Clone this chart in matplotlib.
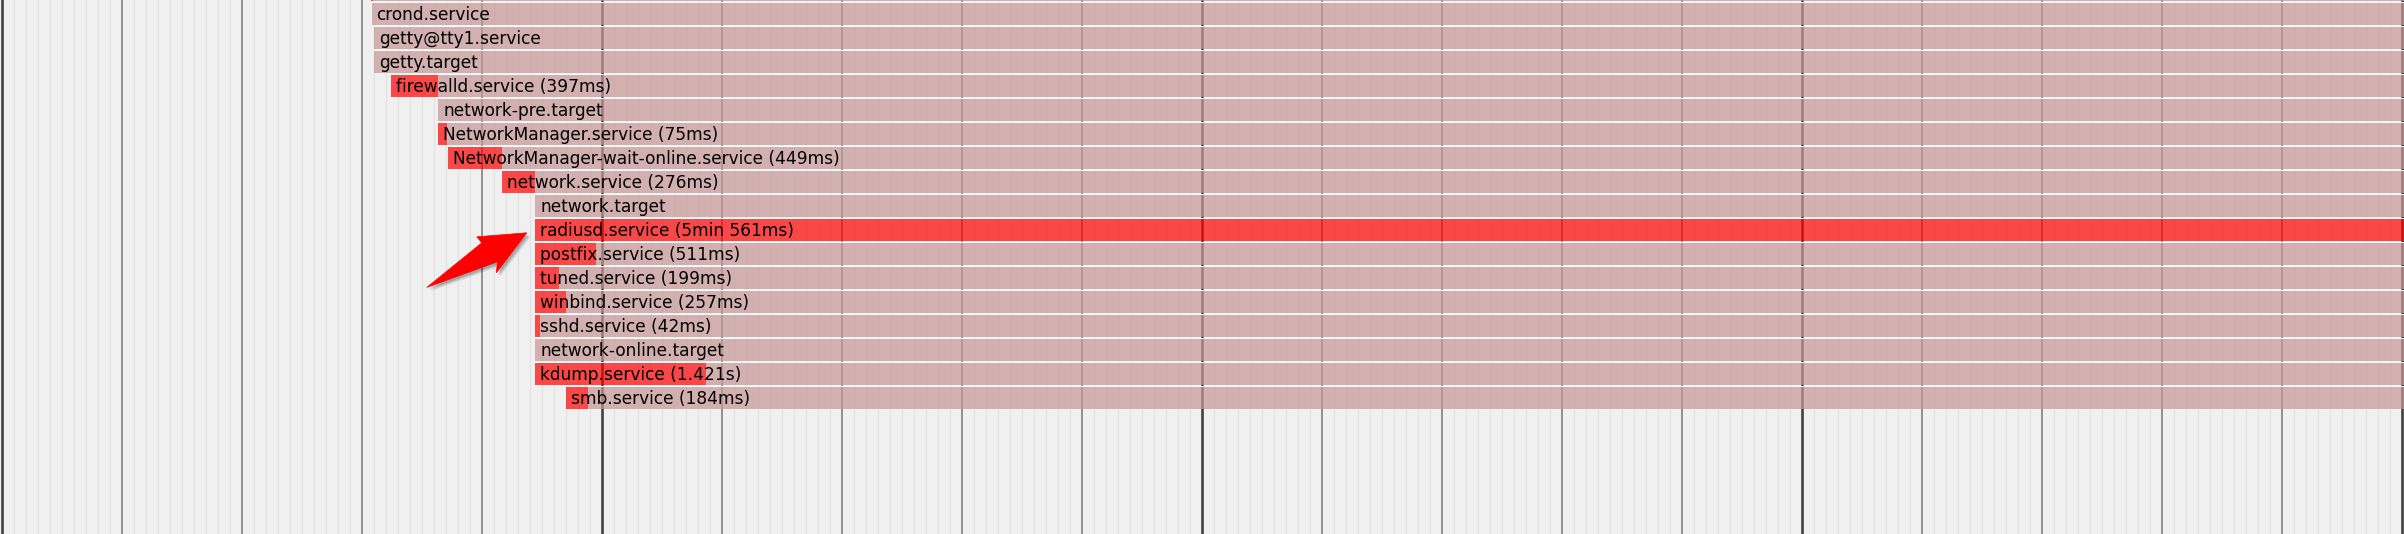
import numpy as np
import matplotlib.pyplot as plt
from matplotlib.patches import Polygon

# systemd units shown in the crop (first row is cut off at the top edge)
units = ["", "crond.service", "getty@tty1.service", "getty.target",
         "firewalld.service", "network-pre.target", "NetworkManager.service",
         "NetworkManager-wait-online.service", "network.service",
         "network.target", "radiusd.service", "postfix.service",
         "tuned.service", "winbind.service", "sshd.service",
         "network-online.target", "kdump.service", "smb.service"]
# start time (s, from left edge of crop) and activation time (s)
start_s = [3.080, 3.084, 3.103, 3.103, 3.243, 3.640, 3.640, 3.722, 4.171,
           4.447, 4.447, 4.447, 4.447, 4.447, 4.447, 4.447, 4.447, 4.707]
activating_s = [0.017, 0, 0, 0, 0.397, 0, 0.075, 0.449, 0.276,
                0, 300.561, 0.511, 0.199, 0.257, 0.042, 0, 1.421, 0.184]
time_labels = ["", "", "", "", "397ms", "", "75ms", "449ms", "276ms",
               "", "5min 561ms", "511ms", "199ms", "257ms", "42ms", "",
               "1.421s", "184ms"]
plot_end_s = 400.0

PX_PER_S = 120.0
ROW_PX = 24.0
W, H = 2404, 534

start = np.array(start_s)
act = np.array(activating_s)
rows = np.arange(len(units)) - 1

fig = plt.figure(figsize=(W / 100, H / 100), dpi=100)
ax = fig.add_axes([0, 0, 1, 1])
ax.set_facecolor('#f0f0f0')
ax.set_xlim(-1.5 / PX_PER_S, (W - 1.5) / PX_PER_S)
ax.set_ylim((H - 13.8) / ROW_PX, -13.8 / ROW_PX)
ax.axis('off')
fig.patch.set_facecolor('#f0f0f0')

# time grid: 100ms, 1s and 5s lines
ticks = np.round(np.arange(0, 20.01, 0.1), 1)
minor = ticks[np.abs(ticks - np.round(ticks)) > 0.01]
sec1 = [t for t in range(21) if t % 5]
sec5 = [t for t in range(21) if t % 5 == 0]
ax.vlines(minor, -5, 30, color='#e2e2e2', lw=1.2 * 0.72, zorder=0)
ax.vlines(sec1, -5, 30, color='#7d7d7d', lw=1.6 * 0.72, zorder=0)
ax.vlines(sec5, -5, 30, color='#404040', lw=2.6 * 0.72, zorder=0)

bar_h = 22 / ROW_PX
# activating (red) and active (pink) parts
ax.barh(rows, act, left=start, height=bar_h, color=(1, 0, 0, 0.7),
        lw=0, zorder=2)
ax.barh(rows, plot_end_s - (start + act), left=start + act, height=bar_h,
        color=(200 / 255, 150 / 255, 150 / 255, 0.7), lw=0, zorder=2)
ax.hlines(rows - 0.5, start, plot_end_s, color='white', lw=0.7, zorder=3)

for name, tl, x, y in zip(units, time_labels, start, rows):
    if not name:
        continue
    label = f"{name} ({tl})" if tl else name
    ax.annotate(label, xy=(x, y), xytext=(5, -1.5),
                textcoords='offset pixels', va='center', ha='left',
                fontsize=12.25, color='black', family='DejaVu Sans',
                zorder=4)

# callout arrow pointing at radiusd.service (pixel offsets from the tip)
arrow_px = np.array([[0, 0], [-50, 4], [-45, 10], [-100, 54.6],
                     [-29.4, 29], [-30.5, 40]])
r = units.index("radiusd.service")
tip_x = start[r] - 8.3 / PX_PER_S
tip_y = rows[r] + 3 / ROW_PX
pts = np.column_stack([tip_x + arrow_px[:, 0] / PX_PER_S,
                       tip_y + arrow_px[:, 1] / ROW_PX])
for dx, dy, a in [(3, 3, 0.12), (2, 2, 0.15), (4, 4, 0.08)]:
    sh = pts + np.array([dx / PX_PER_S, dy / ROW_PX])
    ax.add_patch(Polygon(sh, closed=True, fc='black', ec='none', alpha=a,
                         zorder=5))
ax.add_patch(Polygon(pts, closed=True, fc='#ff0000', ec='#ff0000', lw=0.5,
                     zorder=6))

fig.savefig('out.png', dpi=100, facecolor=fig.get_facecolor())
